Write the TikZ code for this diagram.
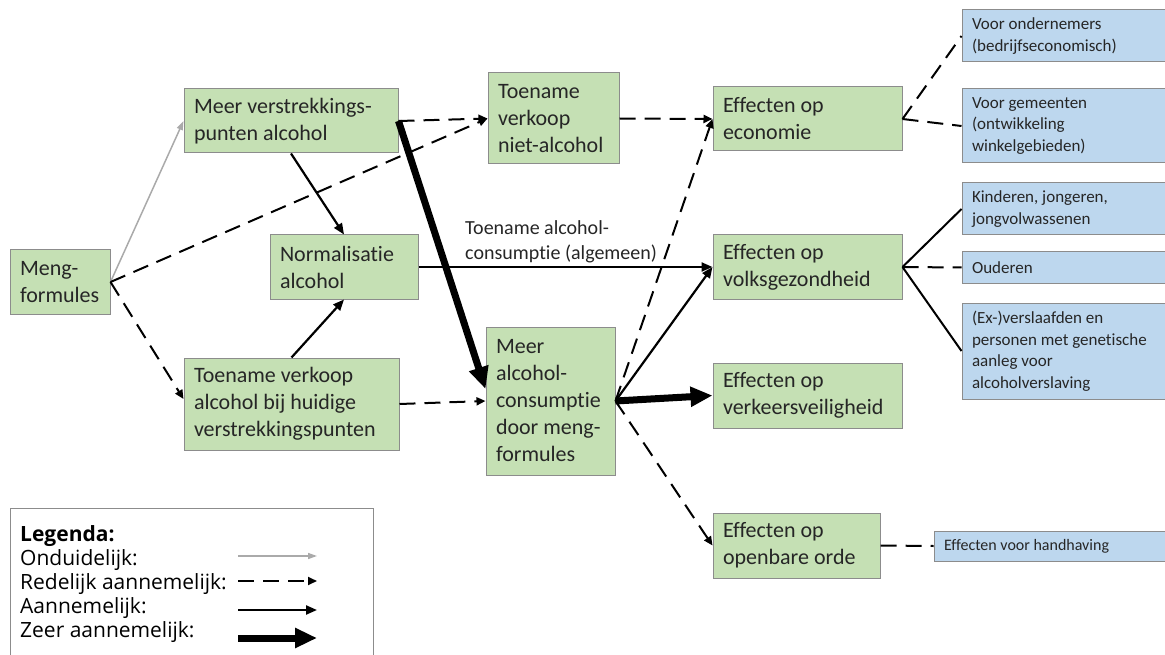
\documentclass[tikz,border=0pt]{standalone}
\usepackage{fontspec}
\setmainfont{Carlito}[Ligatures=NoCommon]
\newfontfamily\legendfont{Open Sans}
\usepackage{xcolor}
\definecolor{boxgreen}{RGB}{197,224,180}
\definecolor{boxblue}{RGB}{189,215,238}
\definecolor{boxline}{RGB}{140,140,140}
\definecolor{txtdark}{RGB}{38,38,38}
\definecolor{unclear}{RGB}{170,170,170}
\usetikzlibrary{arrows.meta, positioning}

\tikzset{
  greenbox/.style 2 args={draw=boxline, line width=1pt, fill=boxgreen, text=txtdark,
    align=flush left, inner xsep=10pt, inner ysep=4pt, text width=#1, minimum height=#2,
    font=\fontsize{22}{27}\selectfont},
  bluebox/.style 2 args={draw=boxline, line width=1pt, fill=boxblue, text=txtdark,
    align=flush left, inner xsep=10pt, inner ysep=3pt, text width=#1, minimum height=#2,
    font=\fontsize{17}{21.5}\selectfont},
  edgelabel/.style={text=txtdark, align=flush left, inner sep=3pt,
    font=\fontsize{20}{24.5}\selectfont},
  legendtext/.style={text=black, inner sep=0pt, anchor=base west,
    font=\legendfont\fontsize{21}{24}\selectfont},
  unclearlink/.style={draw=unclear, line width=1.5pt, -{Triangle[length=9pt,width=6pt]}},
  fairlylink/.style={line width=2pt, dash pattern=on 16pt off 9pt,
    -{Triangle[length=9pt,width=8pt]}},
  likelylink/.style={line width=2.2pt, -{Triangle[length=11pt,width=9pt]}},
  verylikelylink/.style={line width=7pt, -{Triangle[length=22pt,width=19pt]}},
  dashline/.style={line width=2pt, dash pattern=on 16pt off 9pt},
  solidline/.style={line width=2pt},
}

\begin{document}
\begin{tikzpicture}[x=1pt, y=-1pt]
  \useasboundingbox (0,0) rectangle (1165,655);

  % left column
  \node[greenbox={80pt}{64pt}] (meng) at (60,282) {Meng-\\formules};
  \node[greenbox={194pt}{64pt}] (verstr) at (291,121) {Meer verstrekkings-\\punten alcohol};
  \node[greenbox={128pt}{64pt}] (norm) at (344,267) {Normalisatie\\alcohol};
  \node[greenbox={195pt}{92pt}] (verkoopalc) at (291.5,404)
    {Toename verkoop\\alcohol bij huidige\\verstrekkingspunten};

  % middle column
  \node[greenbox={111pt}{91pt}] (nietalc) at (553.5,118.5) {Toename\\verkoop\\niet-alcohol};
  \node[greenbox={109pt}{148pt}] (meeralc) at (550.5,401)
    {Meer\\alcohol-\\consumptie\\door meng-\\formules};

  % effects
  \node[greenbox={169pt}{64pt}] (econ) at (807.5,119) {Effecten op\\economie};
  \node[greenbox={169pt}{64pt}] (volks) at (807.5,267) {Effecten op\\volksgezondheid};
  \node[greenbox={169pt}{65pt}] (verkeer) at (807.5,395.5) {Effecten op\\verkeersveiligheid};
  \node[greenbox={147pt}{65pt}] (orde) at (796.5,545.5) {Effecten op\\openbare orde};

  % target groups
  \node[bluebox={183pt}{52pt}] (onder) at (1063.5,36) {Voor ondernemers\\(bedrijfseconomisch)};
  \node[bluebox={183pt}{74pt}] (gemeent) at (1063.5,126) {Voor gemeenten\\(ontwikkeling\\winkelgebieden)};
  \node[bluebox={183pt}{52pt}] (kind) at (1063.5,209) {Kinderen, jongeren,\\jongvolwassenen};
  \node[bluebox={183pt}{31pt}] (oud) at (1063.5,267.5) {Ouderen};
  \node[bluebox={183pt}{96pt}] (ex) at (1063.5,351)
    {(Ex-)verslaafden en\\personen met genetische\\aanleg voor\\alcoholverslaving};
  \node[bluebox={211pt}{30pt}, font=\fontsize{16}{20}\selectfont] (handh) at (1049.5,546)
    {Effecten voor handhaving};

  % connections
  \draw[unclearlink] (meng.east) -- (verstr.west);
  \draw[fairlylink] (meng.east) -- (nietalc.west);
  \draw[fairlylink] (meng.east) -- ([yshift=5pt]verkoopalc.west);
  \draw[fairlylink] (verstr.east) -- (nietalc.west);
  \draw[likelylink] (verstr.south) -- (norm.north);
  \draw[likelylink] (verkoopalc.north) -- (norm.south);
  \draw[verylikelylink] (verstr.east) -- ([yshift=12pt]meeralc.west);
  \draw[fairlylink] (verkoopalc.east) -- (meeralc.west);
  \draw[likelylink] (norm.east) -- node[edgelabel, above, pos=0.485] (lblcons)
    {Toename alcohol-\\consumptie (algemeen)} (volks.west);
  \draw[fairlylink] (nietalc.east) -- (econ.west);
  \draw[fairlylink] (meeralc.east) -- (econ.west);
  \draw[likelylink] (meeralc.east) -- (volks.west);
  \draw[verylikelylink] (meeralc.east) -- (verkeer.west);
  \draw[fairlylink] (meeralc.east) -- (orde.west);

  \draw[dashline] (econ.east) -- (onder.west);
  \draw[dashline] (econ.east) -- (gemeent.west);
  \draw[solidline] (volks.east) -- (kind.west);
  \draw[dashline] (volks.east) -- (oud.west);
  \draw[solidline] (volks.east) -- (ex.west);
  \draw[dashline] (orde.east) -- (handh.west);

  % legend
  \draw[draw=boxline, line width=1pt] (10,660) |- (373,508) -- (373,660);
  \node[legendtext] (leghead) at (20,541) {\bfseries Legenda:};
  \node[legendtext] (legunclear) at (20,565) {Onduidelijk:};
  \node[legendtext] (legfairly) at (20,589) {Redelijk aannemelijk:};
  \node[legendtext] (leglikely) at (20,613) {Aannemelijk:};
  \node[legendtext] (legvery) at (20,637) {Zeer aannemelijk:};
  \coordinate (ua) at (238,556);  \coordinate (ub) at (317,556);
  \coordinate (fa) at (238,581);  \coordinate (fb) at (317,581);
  \coordinate (la) at (238,610);  \coordinate (lb) at (317,610);
  \coordinate (va) at (238,638);  \coordinate (vb) at (317,638);
  \draw[unclearlink] (ua) -- (ub);
  \draw[fairlylink] (fa) -- (fb);
  \draw[likelylink] (la) -- (lb);
  \draw[verylikelylink] (va) -- (vb);
\end{tikzpicture}
\end{document}
